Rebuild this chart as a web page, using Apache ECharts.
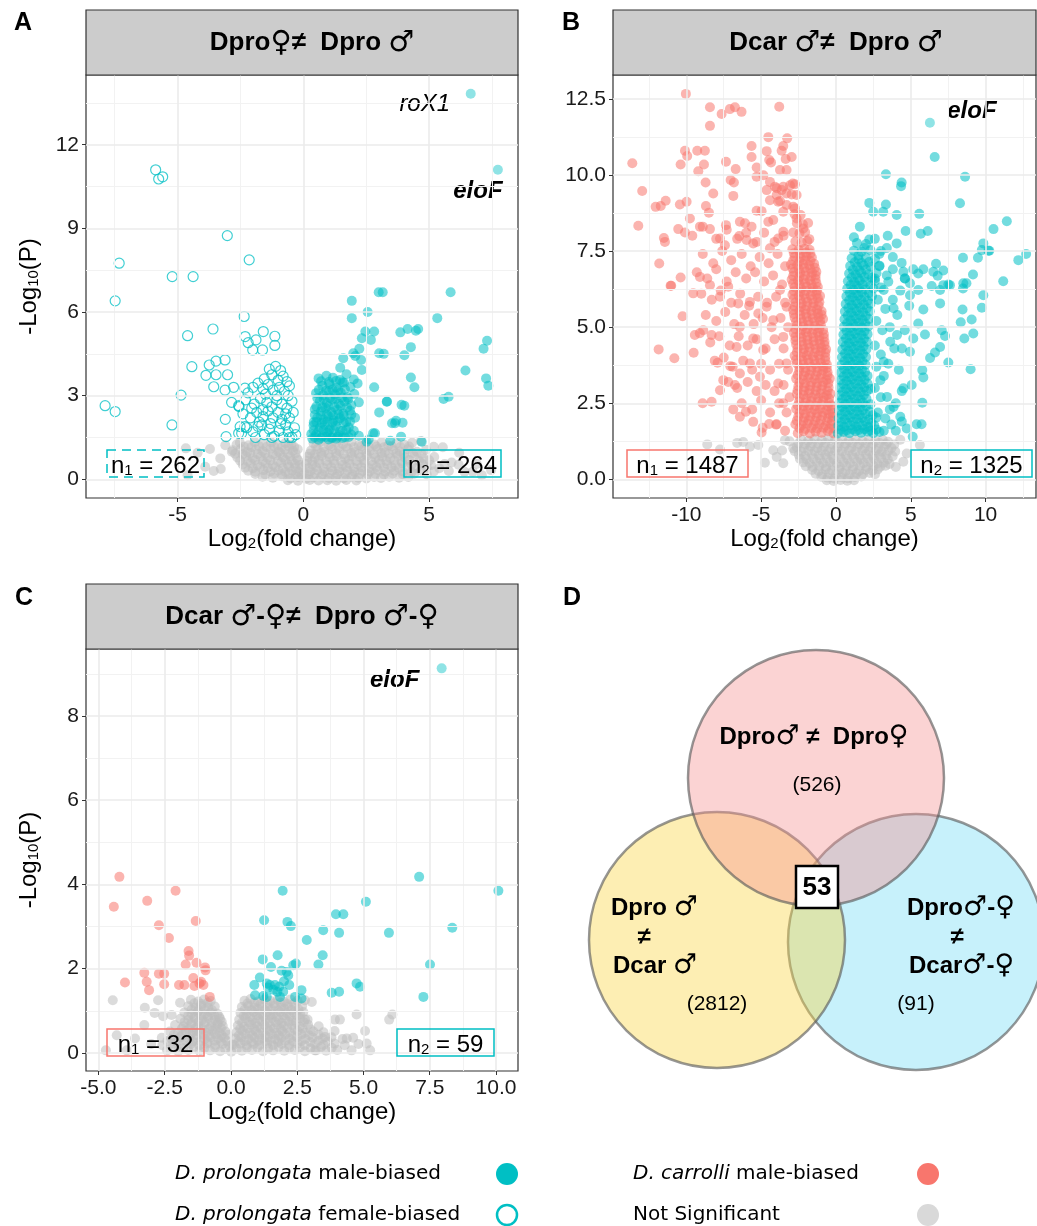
<!DOCTYPE html>
<html>
<head>
<meta charset="utf-8">
<script src="https://cdn.jsdelivr.net/npm/echarts@6.0.0/dist/echarts.min.js"></script>
<style>
  html, body { margin: 0; padding: 0; background: #fff; }
  #main { width: 1037px; height: 1226px; }
</style>
</head>
<body>
<div id="main"></div>
<script>
// ---- panel A : Dpro female vs Dpro male ----
const aXTicks = [-5, 0, 5]
const aYTicks = [0, 3, 6, 9, 12]
const aCounts = [262, 264]
const aGenes = [['roX1', 6.66, 13.83], ['eloF', 7.74, 11.10]]
const aMale = [
  [3.00,6.71],[3.16,6.71],[5.86,6.71],[1.93,6.40],[1.93,5.78],[2.56,6.00],[5.33,5.78],
  [2.47,5.30],[2.82,5.30],[2.69,5.00],[2.33,5.06],[2.23,4.68],[2.07,4.42],[3.02,4.52],[3.20,4.50],[2.30,4.28],[2.33,3.92],
  [3.86,5.27],[4.15,5.39],[4.48,5.33],[4.57,5.39],[4.28,4.74],[4.02,4.45],[7.31,4.97],[7.17,4.68],[6.45,3.90],
  [4.28,3.65],[4.42,3.30],[7.27,3.62],[7.36,3.36],[5.58,2.88],[5.78,2.96],
  [2.82,3.30],[3.33,2.79],[3.02,2.40],[4.02,2.64],[3.53,2.01],[3.69,2.10],[3.95,2.03],[2.78,1.65],[2.60,1.43],
  [3.89,1.53],[3.46,1.38],[1.59,4.34],[1.99,4.52],[1.47,4.00],[3.91,2.67],[3.65,2.01],[3.32,2.78],[4.71,1.35],[2.52,1.35],[2.85,1.65],
  [0.61,3.62],[0.92,3.71],[1.18,3.64],[1.46,3.56],[1.72,3.77],[2.01,3.58],[0.76,3.36],[1.04,3.41],[1.31,3.29],[1.62,3.46],[1.88,3.31],[2.16,3.44],
  [0.51,3.09],[0.79,3.02],[1.02,3.16],[1.26,3.04],[1.49,3.11],[1.76,2.94],[2.03,3.06],[0.66,2.81],[0.94,2.74],[1.16,2.86],[1.41,2.71],[1.64,2.79],[1.91,2.66],[2.21,2.76],
  [0.46,2.51],[0.71,2.44],[0.89,2.56],[1.11,2.41],[1.36,2.49],[1.59,2.36],[1.86,2.46],[0.56,2.21],[0.81,2.14],[1.01,2.26],[1.21,2.11],[1.46,2.19],[1.71,2.06],[2.06,2.21],
  [0.41,1.94],[0.66,1.86],[0.86,1.96],[1.06,1.79],[1.29,1.91],[1.56,1.74],[1.81,1.86],[0.51,1.61],[0.76,1.54],[0.96,1.66],[1.16,1.49],[1.41,1.59],[1.66,1.51],[1.91,1.61],
  [2.21,1.56],[0.36,1.46],[0.61,1.42],[1.01,1.43],[1.31,1.46],[0.32,1.62],[0.42,2.05],
  [0.71,3.52],[1.02,3.49],[1.31,3.53],[1.56,3.48],
  [0.62,3.21],[0.91,3.18],[1.16,3.22],[1.39,3.19],[1.66,3.23],
  [0.56,2.91],[0.81,2.88],[1.06,2.92],[1.29,2.89],[1.54,2.93],[1.79,2.88],
  [0.52,2.61],[0.76,2.58],[1.01,2.62],[1.24,2.59],[1.49,2.63],[1.74,2.58],
  [0.46,2.31],[0.69,2.28],[0.94,2.32],[1.19,2.29],[1.41,2.33],[1.61,2.28],[1.91,2.32],
  [0.52,2.06],[0.74,2.03],[0.96,2.07],[1.16,2.04],[1.36,2.08],[1.61,2.03],[1.86,2.07],
  [0.41,1.76],[0.61,1.73],[0.81,1.77],[1.01,1.74],[1.21,1.78],[1.46,1.73],[1.71,1.77],[2.01,1.74],
  [0.46,1.51],[0.71,1.48],[0.91,1.52],[1.11,1.49],[1.36,1.53],[1.56,1.48],[1.81,1.52]
]
const aFemale = [
  [-5.87,11.10],[-5.75,10.77],[-5.59,10.85],[-3.02,8.74],[-2.15,7.87],[-7.32,7.75],[-5.21,7.27],[-4.38,7.27],
  [-7.48,6.40],[-2.35,5.84],[-4.60,5.15],[-3.59,5.39],[-2.31,5.12],[-1.59,5.30],[-1.13,5.13],[-1.13,4.80],
  [-2.19,4.90],[-1.88,5.00],[-1.62,4.64],[-2.01,4.64],[-4.43,4.04],[-3.74,4.10],[-3.47,4.24],[-3.11,4.28],
  [-3.87,3.73],[-3.47,3.75],[-3.01,3.75],[-3.56,3.32],[-3.11,3.20],[-2.77,3.30],[-4.86,3.02],[-2.85,2.76],
  [-2.57,2.64],[-7.88,2.64],[-7.48,2.43],[-5.22,1.95],[-3.10,2.15],[-2.51,1.89],[-2.57,1.65],[-3.07,1.53],
  [-2.32,3.27],[-2.55,2.61],[-2.32,1.89],[-2.45,1.65],
  [-1.35,3.95],[-1.10,4.05],[-0.90,3.90],[-1.25,3.75],[-0.80,3.70],[-1.55,3.60],[-1.00,3.55],[-0.65,3.50],
  [-2.00,3.30],[-1.80,3.45],[-1.60,3.25],[-1.40,3.40],[-1.20,3.20],[-0.95,3.30],[-0.75,3.15],[-0.55,3.35],[-2.20,3.10],[-1.50,3.05],[-1.05,3.00],[-0.60,3.00],
  [-2.30,2.85],[-1.95,2.70],[-1.70,2.90],[-1.45,2.75],[-1.25,2.60],[-1.05,2.85],[-0.85,2.70],[-0.65,2.55],[-0.45,2.80],[-1.60,2.50],[-2.05,2.55],
  [-2.40,2.35],[-2.10,2.20],[-1.85,2.40],[-1.60,2.25],[-1.40,2.45],[-1.20,2.20],[-1.00,2.40],[-0.85,2.15],[-0.70,2.35],[-0.55,2.20],[-0.40,2.40],[-1.75,2.05],[-1.30,2.00],[-0.90,2.00],
  [-2.25,1.85],[-2.00,1.70],[-1.80,1.90],[-1.55,1.60],[-1.35,1.80],[-1.15,1.55],[-0.95,1.75],[-0.80,1.50],[-0.60,1.70],[-0.45,1.50],[-0.35,1.85],[-1.90,1.50],[-1.65,1.95],[-1.25,1.50],[-0.70,1.95],[-0.55,1.50],[-0.30,1.60]
]
const aGrey = [
  [-2.52,1.31],[-2.18,1.22],[-1.93,1.34],[-1.61,1.27],[-1.28,1.33],[-1.02,1.21],[-0.71,1.30],[-0.47,1.24],
  [0.41,1.29],[0.68,1.35],[1.02,1.23],[1.31,1.32],[1.58,1.26],[1.92,1.34],[2.21,1.22],[2.48,1.30],[2.83,1.25],[3.12,1.33],[3.38,1.21],[3.71,1.29],[4.02,1.24],[4.33,1.31],
  [-2.81,1.04],[-2.49,1.09],[-2.23,0.98],[-1.88,1.07],[-1.62,1.01],[-1.29,1.10],[-0.98,0.99],[-0.72,1.06],[-0.41,1.02],[-0.22,1.08],
  [0.31,1.03],[0.57,1.09],[0.83,0.99],[1.16,1.07],[1.44,1.01],[1.77,1.10],[2.03,0.98],[2.37,1.06],[2.64,1.02],[2.97,1.09],[3.24,0.97],[3.57,1.05],[3.84,1.00],[4.17,1.08],[4.52,0.99],[4.88,1.06],
  [-2.62,0.78],[-2.28,0.84],[-2.01,0.76],[-1.69,0.82],[-1.42,0.77],[-1.08,0.85],[-0.81,0.79],[-0.52,0.83],[-0.26,0.76],
  [0.18,0.81],[0.46,0.77],[0.74,0.84],[1.06,0.78],[1.33,0.83],[1.67,0.75],[1.94,0.82],[2.27,0.79],[2.53,0.85],[2.87,0.77],[3.14,0.81],[3.46,0.76],[3.77,0.84],[4.04,0.78],[4.41,0.82],[4.79,0.75],[5.21,0.80],
  [-2.41,0.53],[-2.09,0.58],[-1.82,0.51],[-1.49,0.57],[-1.21,0.52],[-0.88,0.59],[-0.62,0.54],[-0.34,0.56],[-0.13,0.51],
  [0.11,0.55],[0.36,0.52],[0.64,0.58],[0.96,0.53],[1.24,0.57],[1.56,0.51],[1.84,0.56],[2.16,0.53],[2.44,0.59],[2.76,0.52],[3.06,0.57],[3.34,0.54],[3.66,0.51],[3.94,0.58],[4.31,0.53],[4.72,0.56],[5.08,0.51],[5.62,0.55],[6.18,0.52],
  [-2.19,0.31],[-1.91,0.27],[-1.58,0.33],[-1.31,0.28],[-0.99,0.32],[-0.71,0.26],[-0.44,0.31],[-0.19,0.27],[0.04,0.22],[0.29,0.29],[0.56,0.33],[0.84,0.27],[1.16,0.31],[1.44,0.28],[1.76,0.32],[2.04,0.26],[2.36,0.30],[2.64,0.28],[2.96,0.33],[3.26,0.27],[3.61,0.31],[3.94,0.29],[4.31,0.26],[4.68,0.32],[5.19,0.28],[5.79,0.30],[6.41,0.27],
  [-1.62,0.09],[-1.21,0.06],[-0.84,0.11],[-0.51,0.04],[-0.21,0.08],[0.11,0.02],[0.39,0.07],[0.71,0.10],[1.02,0.05],[1.29,0.08],[1.61,0.04],[1.92,0.09],[2.19,0.06],[2.51,0.03],[2.82,0.08],[3.09,0.05],[3.42,0.09],[3.81,0.06],[4.18,0.08],
  [-2.36,1.17],[-2.06,1.15],[-1.76,1.19],[-1.46,1.16],[-1.16,1.18],[-0.86,1.15],[-0.58,1.19],[-0.36,1.16],
  [0.51,1.18],[0.81,1.15],[1.11,1.19],[1.41,1.16],[1.71,1.18],[2.01,1.15],[2.31,1.19],[2.61,1.16],[2.91,1.18],[3.21,1.15],[3.51,1.19],[3.86,1.16],[4.21,1.18],
  [-2.71,0.92],[-2.41,0.90],[-2.11,0.94],[-1.81,0.91],[-1.51,0.93],[-1.21,0.90],[-0.91,0.94],[-0.61,0.91],[-0.31,0.93],
  [0.26,0.92],[0.46,0.90],[0.71,0.94],[1.01,0.91],[1.31,0.93],[1.61,0.90],[1.91,0.94],[2.21,0.91],[2.51,0.93],[2.81,0.90],[3.11,0.94],[3.41,0.91],[3.71,0.93],[4.01,0.90],[4.36,0.94],[4.71,0.91],
  [-2.51,0.67],[-2.21,0.65],[-1.91,0.69],[-1.61,0.66],[-1.31,0.68],[-1.01,0.65],[-0.71,0.69],[-0.46,0.66],[-0.21,0.68],
  [0.16,0.67],[0.36,0.65],[0.61,0.69],[0.91,0.66],[1.21,0.68],[1.51,0.65],[1.81,0.69],[2.11,0.66],[2.41,0.68],[2.71,0.65],[3.01,0.69],[3.31,0.66],[3.61,0.68],[3.91,0.65],[4.21,0.69],[4.61,0.66],[5.01,0.68],
  [-2.31,0.42],[-2.01,0.40],[-1.71,0.44],[-1.41,0.41],[-1.11,0.43],[-0.81,0.40],[-0.56,0.44],[-0.31,0.41],[-0.06,0.43],[0.21,0.40],[0.51,0.44],[0.81,0.41],[1.11,0.43],[1.41,0.40],[1.71,0.44],[2.01,0.41],[2.31,0.43],[2.61,0.40],[2.91,0.44],[3.21,0.41],[3.51,0.43],[3.81,0.40],[4.16,0.44],[4.51,0.41],[4.91,0.43],[5.41,0.40],
  [-1.91,0.19],[-1.51,0.17],[-1.16,0.21],[-0.86,0.18],[-0.56,0.20],[-0.31,0.17],[-0.06,0.15],[0.21,0.18],[0.46,0.20],[0.76,0.17],[1.06,0.21],[1.36,0.18],[1.66,0.20],[1.96,0.17],[2.26,0.21],[2.56,0.18],[2.86,0.20],[3.21,0.17],[3.56,0.21],[3.96,0.18],[4.41,0.20],[4.91,0.17],
  [-0.61,-0.03],[-0.21,-0.05],[0.26,-0.02],[0.61,-0.04],[0.96,-0.03],[1.31,-0.05],[1.71,-0.02],[2.11,-0.04],
  [-4.67,1.11],[-3.71,1.09],[-2.84,0.99],[-3.56,0.30],[-3.28,0.37],[4.68,1.37],[5.19,1.17],[6.74,0.27],[7.47,0.33],[-3.10,1.22],
  [-2.65,1.25],[-4.20,0.95],[-3.90,0.45],[5.55,1.15],[6.20,0.95],[5.90,0.60],[6.90,0.55],[-4.60,0.15],[-3.30,0.75],[7.10,0.15]
]

// ---- panel B : Dcar male vs Dpro male ----
const bXTicks = [-10, -5, 0, 5, 10]
const bYTicks = [0, 2.5, 5, 7.5, 10, 12.5]
const bCounts = [1487, 1325]
const bGenes = [['eloF', 6.28, 11.71]]
const bRed = [
  [-10.03,12.66],[-8.42,12.22],[-7.64,12.0],[-7.09,12.16],[-6.75,12.22],[-6.31,12.07],[-3.79,12.24],[-8.42,11.61],
  [-13.61,10.38],[-12.95,9.47],[-13.21,8.33],[-12.05,8.95],[-11.71,8.98],[-11.38,9.15],[-10.09,10.79],[-9.94,10.62],
  [-10.38,10.34],[-9.27,10.79],[-8.76,10.79],[-8.82,10.34],[-9.20,10.12],[-8.71,9.75],[-8.20,9.39],[-7.35,10.43],
  [-6.70,10.19],[-7.04,9.83],[-6.82,9.75],[-6.86,9.31],[-4.52,11.24],[-3.26,11.20],[-3.52,10.95],[-3.63,10.79],
  [-4.63,10.78],[-4.46,10.49],[-4.34,10.41],[-5.64,10.95],[-5.64,10.59],[-2.96,10.59],[-3.36,10.52],[-5.30,10.24],
  [-4.85,9.99],[-5.30,9.94],[-3.74,10.16],[-3.30,10.16],[-4.41,9.77],[-2.89,9.72],[-3.52,9.61],[-3.96,9.56],
  [-2.96,9.36],[-10.43,9.03],[-9.98,9.12],[-10.54,8.22],[-10.09,8.11],[-11.50,7.93],[-11.43,7.80],[-11.81,7.09],
  [-11.05,6.36],[-10.38,6.63],[-8.69,8.98],[-8.49,8.76],[-9.76,8.57],[-9.09,8.30],[-8.42,8.22],[-6.42,8.46],
  [-6.08,8.41],[-5.64,8.30],[-6.46,7.99],[-5.97,7.86],[-5.53,7.75],[-7.35,8.35],[-7.75,7.91],[-7.42,7.69],
  [-5.30,8.82],[-4.97,8.81],[-4.52,8.46],[-4.19,8.52],[-3.52,8.13],[-3.86,7.91],[-4.41,7.59],[-2.63,8.57],
  [-2.18,8.24],[-1.78,7.89],[-2.74,8.90],[-3.86,9.12],[-3.30,9.01],[-2.85,8.95],[-4.41,9.17],[-4.08,9.61],
  [-3.63,9.50],[-3.07,9.66],[-2.74,9.69],[-3.30,9.39],[-3.96,9.34],[-3.74,9.14],[-4.63,9.50],[-2.63,9.34],[-3.52,8.79],
  [-11.01,6.36],[-11.85,4.27],[-10.80,3.98],[-9.51,4.16],[-10.25,5.36],[-8.91,2.50],[-8.31,2.55],[-7.75,2.93],
  [-6.86,2.30],[-6.42,2.06],[-6.02,2.22],[-5.53,1.89],[-4.97,1.54],[-4.46,1.82],[-3.96,1.81],[-7.53,3.26],
  [-6.75,3.10],[-6.42,3.48],[-7.91,3.83],[-7.06,3.72],[-9.43,4.74],[-8.87,4.90],[-8.31,4.74],[-9.54,6.11],
  [-9.09,6.65],[-8.42,6.38],[-7.75,6.00],[-7.20,6.33],[-6.53,5.78],[-5.75,5.83],[-5.19,5.45],[-4.63,5.67],
  [-6.42,5.01],[-5.53,4.63],[-4.86,4.25],[-4.19,5.23],[-5.75,3.81],[-5.08,3.37],[-6.64,4.35],[-3.74,6.22],
  [-3.30,5.67],[-3.52,4.68],[-3.30,3.81],[-3.86,3.15],[-3.52,2.50],
  [-8.90,7.40],[-8.20,7.10],[-7.60,7.50],[-7.00,7.20],[-6.30,7.40],[-5.70,7.00],[-5.10,7.30],[-4.50,7.10],[-3.90,7.40],[-3.40,7.00],
  [-9.30,6.80],[-8.60,6.60],[-8.00,6.90],[-7.30,6.50],[-6.70,6.80],[-6.00,6.60],[-5.40,6.80],[-4.80,6.50],[-4.20,6.70],[-3.60,6.40],
  [-9.00,6.10],[-8.30,5.90],[-7.70,6.20],[-7.00,5.80],[-6.40,6.10],[-5.80,5.70],[-5.20,6.00],[-4.60,5.80],[-4.00,6.00],[-3.40,5.80],
  [-8.70,5.40],[-8.00,5.20],[-7.40,5.50],[-6.80,5.10],[-6.10,5.40],[-5.50,5.10],[-4.90,5.30],[-4.30,5.00],[-3.70,5.30],[-3.20,5.00],
  [-9.10,4.80],[-8.40,4.50],[-7.80,4.70],[-7.10,4.40],[-6.50,4.70],[-5.90,4.40],[-5.30,4.60],[-4.70,4.30],[-4.10,4.60],[-3.50,4.30],
  [-8.10,3.90],[-7.50,4.00],[-6.90,3.70],[-6.20,3.90],[-5.60,3.60],[-5.00,3.80],[-4.40,3.60],[-3.80,3.80],[-3.20,3.60],
  [-7.20,3.20],[-6.60,3.00],[-5.90,3.20],[-5.30,2.90],[-4.70,3.10],[-4.10,2.90],[-3.50,3.10],[-3.10,2.70],
  [-6.30,2.50],[-5.60,2.30],[-5.00,2.60],[-4.40,2.20],[-3.80,2.50],[-3.30,2.20],[-4.00,1.80],[-3.40,1.60],[-4.90,1.70],
  [-9.60,8.00],[-8.90,8.30],[-8.00,7.90],[-7.30,8.20],[-6.60,7.90],[-6.00,8.10],[-5.30,7.80],[-4.80,8.10],[-4.10,7.80],[-3.50,8.00],
  [-2.55,1.52],[-2.16,1.58],[-1.74,1.51],[-1.36,1.57],[-0.96,1.53],[-0.54,1.58],[-0.16,1.51],
  [-2.71,1.81],[-2.29,1.78],[-1.91,1.83],[-1.49,1.79],[-1.11,1.82],[-0.69,1.77],[-0.31,1.81],
  [-2.52,2.06],[-2.09,2.03],[-1.71,2.07],[-1.29,2.04],[-0.91,2.08],[-0.52,2.02],[-0.21,2.06],
  [-2.66,2.31],[-2.24,2.28],[-1.86,2.33],[-1.44,2.29],[-1.06,2.32],[-0.64,2.27],[-0.29,2.31],
  [-2.46,2.56],[-2.04,2.53],[-1.66,2.57],[-1.24,2.54],[-0.86,2.58],[-0.46,2.52],
  [-2.61,2.81],[-2.19,2.78],[-1.81,2.83],[-1.39,2.79],[-1.01,2.82],[-0.61,2.77],[-0.36,2.81],
  [-2.51,3.06],[-2.09,3.03],[-1.71,3.07],[-1.29,3.04],[-0.91,3.08],[-0.49,3.02],
  [-2.66,3.31],[-2.24,3.28],[-1.86,3.33],[-1.44,3.29],[-1.06,3.32],[-0.64,3.27],[-0.41,3.31],
  [-2.46,3.56],[-2.04,3.53],[-1.66,3.57],[-1.24,3.54],[-0.86,3.58],[-0.56,3.52],
  [-2.61,3.81],[-2.19,3.78],[-1.81,3.83],[-1.39,3.79],[-1.01,3.82],[-0.61,3.77],
  [-2.76,4.06],[-2.34,4.03],[-1.96,4.07],[-1.54,4.04],[-1.16,4.08],[-0.71,4.02],
  [-2.56,4.31],[-2.14,4.28],[-1.76,4.33],[-1.34,4.29],[-0.96,4.32],[-0.66,4.27],
  [-2.71,4.56],[-2.29,4.53],[-1.91,4.57],[-1.49,4.54],[-1.11,4.58],[-0.76,4.52],
  [-2.81,4.81],[-2.39,4.78],[-2.01,4.83],[-1.59,4.79],[-1.21,4.82],[-0.81,4.77],
  [-2.61,5.06],[-2.19,5.03],[-1.81,5.07],[-1.39,5.04],[-1.01,5.08],
  [-2.76,5.31],[-2.34,5.28],[-1.96,5.33],[-1.54,5.29],[-1.16,5.32],[-0.86,5.27],
  [-2.86,5.56],[-2.44,5.53],[-2.06,5.57],[-1.64,5.54],[-1.26,5.58],[-0.96,5.52],
  [-2.71,5.81],[-2.29,5.78],[-1.91,5.83],[-1.49,5.79],[-1.11,5.82],
  [-2.91,6.06],[-2.49,6.03],[-2.11,6.07],[-1.69,6.04],[-1.31,6.08],[-1.06,6.02],
  [-2.76,6.31],[-2.34,6.28],[-1.96,6.33],[-1.54,6.29],[-1.21,6.32],
  [-2.96,6.56],[-2.54,6.53],[-2.16,6.57],[-1.74,6.54],[-1.36,6.58],
  [-2.81,6.81],[-2.39,6.78],[-2.01,6.83],[-1.59,6.79],[-1.31,6.82],
  [-3.01,7.06],[-2.59,7.03],[-2.21,7.07],[-1.79,7.04],[-1.46,7.08],
  [-2.76,7.31],[-2.34,7.28],[-1.96,7.33],[-1.61,7.29],
  [-2.91,7.56],[-2.49,7.53],[-2.11,7.57],[-1.76,7.54],
  [-2.71,7.81],[-2.29,7.78],[-1.91,7.83],
  [-2.86,8.11],[-2.44,8.08],[-2.06,8.12],
  [-2.61,8.41],[-2.21,8.38],[-1.86,8.42],
  [-2.76,8.71],[-2.36,8.68],
  [-2.44,1.68],[-2.06,1.66],[-1.64,1.69],[-1.26,1.67],[-0.84,1.70],[-0.46,1.66],[-0.12,1.68],
  [-2.61,1.93],[-2.19,1.91],[-1.81,1.94],[-1.39,1.92],[-1.01,1.95],[-0.59,1.91],[-0.26,1.93],
  [-2.44,2.18],[-2.06,2.16],[-1.64,2.19],[-1.26,2.17],[-0.84,2.20],[-0.46,2.16],[-0.22,2.18],
  [-2.56,2.43],[-2.14,2.41],[-1.76,2.44],[-1.34,2.42],[-0.96,2.45],[-0.54,2.41],[-0.31,2.43],
  [-2.41,2.68],[-1.99,2.66],[-1.61,2.69],[-1.19,2.67],[-0.81,2.70],[-0.46,2.66],
  [-2.56,2.93],[-2.14,2.91],[-1.76,2.94],[-1.34,2.92],[-0.96,2.95],[-0.56,2.91],
  [-2.44,3.18],[-2.06,3.16],[-1.64,3.19],[-1.26,3.17],[-0.84,3.20],[-0.51,3.16],
  [-2.56,3.43],[-2.14,3.41],[-1.76,3.44],[-1.34,3.42],[-0.96,3.45],[-0.56,3.41],
  [-2.44,3.68],[-2.06,3.66],[-1.64,3.69],[-1.26,3.67],[-0.84,3.70],[-0.61,3.66],
  [-2.66,3.93],[-2.24,3.91],[-1.86,3.94],[-1.44,3.92],[-1.06,3.95],[-0.71,3.91],
  [-2.61,4.18],[-2.19,4.16],[-1.81,4.19],[-1.39,4.17],[-1.01,4.20],[-0.71,4.16],
  [-2.66,4.43],[-2.24,4.41],[-1.86,4.44],[-1.44,4.42],[-1.06,4.45],[-0.76,4.41],
  [-2.71,4.68],[-2.29,4.66],[-1.91,4.69],[-1.49,4.67],[-1.11,4.70],[-0.81,4.66],
  [-2.71,4.93],[-2.29,4.91],[-1.91,4.94],[-1.49,4.92],[-1.11,4.95],[-0.86,4.91],
  [-2.66,5.18],[-2.24,5.16],[-1.86,5.19],[-1.44,5.17],[-1.06,5.20],
  [-2.81,5.43],[-2.39,5.41],[-2.01,5.44],[-1.59,5.42],[-1.21,5.45],[-0.96,5.41],
  [-2.76,5.68],[-2.34,5.66],[-1.96,5.69],[-1.54,5.67],[-1.16,5.70],
  [-2.81,5.93],[-2.39,5.91],[-2.01,5.94],[-1.59,5.92],[-1.21,5.95],
  [-2.81,6.18],[-2.39,6.16],[-2.01,6.19],[-1.59,6.17],[-1.26,6.20],
  [-2.86,6.43],[-2.44,6.41],[-2.06,6.44],[-1.64,6.42],[-1.31,6.45],
  [-2.86,6.68],[-2.44,6.66],[-2.06,6.69],[-1.64,6.67],[-1.36,6.70],
  [-2.91,6.93],[-2.49,6.91],[-2.11,6.94],[-1.71,6.92],[-1.41,6.95],
  [-2.86,7.18],[-2.44,7.16],[-2.06,7.19],[-1.71,7.17],
  [-2.81,7.43],[-2.41,7.41],[-2.01,7.44],[-1.71,7.42]
]
const bTeal = [
  [6.60,10.59],[3.34,10.02],[4.39,9.75],[4.35,9.63],[8.63,9.94],[2.23,9.08],[2.49,8.79],[3.16,8.79],[3.34,9.03],
  [4.06,8.68],[5.57,8.72],[8.29,9.07],[2.23,7.88],[3.46,8.00],[4.06,7.75],[4.66,8.16],[5.67,8.07],[6.13,8.16],
  [11.42,8.48],[10.53,8.22],[9.85,7.75],[10.25,7.51],[8.49,7.28],[9.49,7.28],[12.19,7.20],[12.71,7.40],[11.18,6.51],
  [9.16,6.73],[8.72,6.44],[8.49,6.27],[4.39,7.11],[5.17,6.90],[5.84,6.90],[6.69,7.08],[7.18,6.86],[6.80,6.69],
  [4.61,6.60],[4.95,6.44],[5.50,6.22],[6.40,6.35],[7.18,6.38],[7.51,6.40],[9.75,7.53],[10.19,7.51],
  [9.85,6.05],[9.75,5.64],[8.46,5.58],[9.07,5.25],[8.34,5.16],[9.18,4.79],[8.58,4.63],[7.51,3.84],[9.00,3.62],
  [7.07,4.90],[7.29,4.71],[6.96,4.35],[6.29,3.99],[6.62,4.17],[5.84,5.58],[5.50,5.12],[5.95,4.76],[5.17,4.63],
  [4.95,4.19],[5.77,3.59],[5.84,3.35],[5.77,2.52],[5.06,3.10],[4.51,2.99],[5.39,1.81],[5.72,1.81],[5.13,1.40],
  [4.73,1.67],[4.30,2.06],[3.85,2.38],[3.41,2.71],[2.97,3.26],[3.19,3.86],[3.63,4.52],[4.41,4.30],[4.08,4.74],
  [3.50,6.49],[4.51,6.82],[5.50,6.76],[6.51,6.82],[4.95,6.05],[3.19,6.22],[3.85,5.62],[6.96,5.78],[7.62,6.38],
  [8.51,6.44],[6.96,6.22],[1.20,7.95],[1.60,8.30],[1.90,7.60],[2.60,7.90],[3.00,7.50],[1.50,7.35],[3.80,7.30],[2.90,7.00],
  [2.60,6.60],[3.00,6.30],[3.40,6.70],[2.80,5.90],[3.30,5.60],[2.70,5.20],[3.10,4.90],[2.60,4.40],[3.00,4.10],
  [2.70,3.70],[3.20,3.40],[2.60,3.00],[3.00,2.70],[2.80,2.20],[3.30,2.00],[3.70,1.80],[3.20,1.60],[4.00,1.60],
  [4.40,1.90],[3.60,2.30],[4.00,2.50],[3.50,3.80],[3.90,4.30],[3.60,5.00],[4.10,5.40],[3.80,5.90],[4.30,6.20],
  [4.60,6.60],[3.80,6.90],[4.20,3.60],[2.90,7.40],[3.40,7.60],[4.60,4.90],[4.90,5.70],[4.40,2.90],
  [0.12,1.51],[0.51,1.56],[0.89,1.52],[1.31,1.58],[1.69,1.53],[2.11,1.57],[2.49,1.52],[2.91,1.56],
  [0.16,1.76],[0.54,1.73],[0.96,1.78],[1.34,1.74],[1.76,1.77],[2.14,1.72],[2.56,1.78],
  [0.18,2.01],[0.59,1.98],[0.97,2.03],[1.39,1.99],[1.77,2.02],[2.21,1.97],[2.69,2.03],
  [0.21,2.26],[0.61,2.23],[0.99,2.28],[1.41,2.24],[1.79,2.27],[2.26,2.22],
  [0.23,2.51],[0.63,2.48],[1.01,2.53],[1.43,2.49],[1.81,2.52],[2.31,2.47],
  [0.25,2.76],[0.66,2.73],[1.04,2.78],[1.46,2.74],[1.86,2.77],
  [0.27,3.01],[0.68,2.98],[1.06,3.03],[1.48,2.99],[1.89,3.02],[2.31,2.97],
  [0.30,3.26],[0.71,3.23],[1.09,3.28],[1.51,3.24],[1.91,3.27],
  [0.33,3.51],[0.74,3.48],[1.12,3.53],[1.54,3.49],[1.94,3.52],
  [0.36,3.76],[0.77,3.73],[1.15,3.78],[1.57,3.74],[1.97,3.77],
  [0.40,4.01],[0.81,3.98],[1.19,4.03],[1.61,3.99],[2.01,4.02],
  [0.42,4.26],[0.83,4.23],[1.21,4.28],[1.63,4.24],[2.03,4.27],
  [0.46,4.51],[0.87,4.48],[1.25,4.53],[1.67,4.49],[2.06,4.52],
  [0.50,4.76],[0.91,4.73],[1.29,4.78],[1.71,4.74],[2.11,4.77],
  [0.53,5.01],[0.94,4.98],[1.32,5.03],[1.74,4.99],[2.16,5.02],
  [0.57,5.26],[0.98,5.23],[1.36,5.28],[1.78,5.24],[2.21,5.27],
  [0.60,5.51],[1.01,5.48],[1.39,5.53],[1.81,5.49],[2.26,5.52],
  [0.65,5.76],[1.06,5.73],[1.44,5.78],[1.86,5.74],[2.31,5.77],
  [0.70,6.01],[1.11,5.98],[1.49,6.03],[1.91,5.99],[2.41,6.02],
  [0.75,6.26],[1.16,6.23],[1.54,6.28],[1.96,6.24],[2.51,6.27],
  [0.80,6.51],[1.21,6.48],[1.59,6.53],[2.01,6.49],[2.61,6.52],
  [0.88,6.76],[1.31,6.73],[1.69,6.78],[2.16,6.74],[2.71,6.77],
  [0.95,7.01],[1.41,6.98],[1.84,7.03],[2.31,6.99],[2.91,7.02],
  [1.05,7.26],[1.51,7.23],[2.01,7.28],[2.61,7.24],
  [1.20,7.51],[1.71,7.48],[2.31,7.53],
  [1.40,7.76],[2.01,7.73],
  [0.31,1.63],[0.71,1.61],[1.11,1.64],[1.51,1.62],[1.91,1.65],[2.31,1.61],[2.71,1.64],
  [0.36,1.88],[0.76,1.86],[1.16,1.89],[1.56,1.87],[1.96,1.90],[2.36,1.86],
  [0.39,2.13],[0.79,2.11],[1.19,2.14],[1.59,2.12],[1.99,2.15],[2.46,2.11],
  [0.41,2.38],[0.81,2.36],[1.21,2.39],[1.61,2.37],[2.01,2.40],
  [0.44,2.63],[0.84,2.61],[1.24,2.64],[1.64,2.62],[2.04,2.65],
  [0.46,2.88],[0.86,2.86],[1.26,2.89],[1.66,2.87],[2.06,2.90],
  [0.49,3.13],[0.89,3.11],[1.29,3.14],[1.69,3.12],[2.11,3.15],
  [0.51,3.38],[0.91,3.36],[1.31,3.39],[1.71,3.37],[2.11,3.40],
  [0.54,3.63],[0.94,3.61],[1.34,3.64],[1.74,3.62],
  [0.57,3.88],[0.97,3.86],[1.37,3.89],[1.77,3.87],
  [0.61,4.13],[1.01,4.11],[1.41,4.14],[1.81,4.12],
  [0.64,4.38],[1.04,4.36],[1.44,4.39],[1.84,4.37],
  [0.67,4.63],[1.07,4.61],[1.47,4.64],[1.87,4.62],
  [0.71,4.88],[1.11,4.86],[1.51,4.89],[1.91,4.87],
  [0.75,5.13],[1.15,5.11],[1.55,5.14],[1.95,5.12],
  [0.79,5.38],[1.19,5.36],[1.59,5.39],[1.99,5.37],
  [0.83,5.63],[1.23,5.61],[1.63,5.64],[2.06,5.62],
  [0.89,5.88],[1.29,5.86],[1.69,5.89],[2.11,5.87],
  [0.93,6.13],[1.33,6.11],[1.73,6.14],[2.21,6.12],
  [0.99,6.38],[1.39,6.36],[1.79,6.39],[2.31,6.37],
  [1.06,6.63],[1.46,6.61],[1.91,6.64],[2.41,6.62],
  [1.13,6.88],[1.56,6.86],[2.01,6.89],
  [1.26,7.13],[1.71,7.11],[2.21,7.14]
]
const bGrey = [
  [-2.31,1.31],[-1.86,1.27],[-1.42,1.33],[-0.94,1.29],[-0.52,1.34],[-0.06,1.30],[0.41,1.33],[0.86,1.28],[1.31,1.32],[1.77,1.27],[2.21,1.31],[2.63,1.26],[3.12,1.30],[3.48,1.24],
  [-2.62,1.06],[-2.14,1.02],[-1.71,1.08],[-1.24,1.03],[-0.81,1.07],[-0.36,1.01],[0.11,1.05],[0.56,1.09],[1.02,1.03],[1.44,1.07],[1.91,1.02],[2.36,1.06],[2.81,1.01],[3.24,1.08],[3.71,1.03],
  [-2.49,0.81],[-2.06,0.77],[-1.61,0.83],[-1.14,0.79],[-0.71,0.82],[-0.24,0.78],[0.21,0.83],[0.66,0.79],[1.09,0.81],[1.56,0.77],[2.01,0.83],[2.44,0.78],[2.91,0.82],[3.36,0.79],[3.79,0.76],
  [-2.18,0.56],[-1.76,0.53],[-1.29,0.58],[-0.86,0.54],[-0.41,0.57],[0.06,0.52],[0.51,0.56],[0.94,0.53],[1.41,0.58],[1.86,0.54],[2.29,0.57],[2.76,0.52],[3.19,0.55],[3.58,0.51],
  [-1.59,0.31],[-1.16,0.28],[-0.69,0.33],[-0.26,0.29],[0.21,0.32],[0.64,0.27],[1.11,0.31],[1.54,0.28],[2.01,0.32],[2.44,0.29],[2.79,0.33],
  [-0.98,0.09],[-0.56,0.06],[-0.11,0.03],[0.34,0.07],[0.79,0.04],[1.26,0.08],[1.69,0.10],
  [-2.51,1.18],[-2.06,1.16],[-1.61,1.19],[-1.16,1.17],[-0.71,1.20],[-0.26,1.16],[0.21,1.19],[0.66,1.17],[1.11,1.20],[1.56,1.16],[2.01,1.19],[2.46,1.17],[2.91,1.20],[3.36,1.16],
  [-2.76,0.93],[-2.31,0.91],[-1.86,0.94],[-1.41,0.92],[-0.96,0.95],[-0.51,0.91],[-0.06,0.94],[0.41,0.92],[0.86,0.95],[1.31,0.91],[1.76,0.94],[2.21,0.92],[2.66,0.95],[3.06,0.91],[3.51,0.94],[3.96,0.92],
  [-2.41,0.68],[-1.96,0.66],[-1.51,0.69],[-1.06,0.67],[-0.61,0.70],[-0.16,0.66],[0.31,0.69],[0.76,0.67],[1.21,0.70],[1.66,0.66],[2.11,0.69],[2.56,0.67],[3.01,0.70],[3.46,0.66],
  [-2.01,0.43],[-1.56,0.41],[-1.11,0.44],[-0.66,0.42],[-0.21,0.45],[0.26,0.41],[0.71,0.44],[1.16,0.42],[1.61,0.45],[2.06,0.41],[2.51,0.44],[2.96,0.42],[3.31,0.45],
  [-1.36,0.19],[-0.91,0.17],[-0.46,0.20],[0.01,0.18],[0.46,0.21],[0.91,0.17],[1.36,0.20],[1.81,0.18],[2.26,0.21],[2.61,0.17],
  [-0.61,-0.03],[-0.16,-0.05],[0.31,-0.02],[0.76,-0.04],[1.21,-0.03],
  [-7.75,0.98],[-6.20,1.23],[-5.75,1.07],[-5.19,1.13],[-4.75,0.55],[-3.96,0.74],[-3.52,0.53],[-2.85,1.02],[-4.19,0.96],[-3.41,1.29],
  [4.50,0.58],[4.73,0.85],[5.61,1.13],[4.00,0.41],[-3.10,1.25],[-3.60,0.95],[3.90,1.15],[4.30,1.30],[-6.60,1.20],[-8.60,1.15]
]

// ---- panel C : Dcar male-female vs Dpro male-female ----
const cXTicks = [-5, -2.5, 0, 2.5, 5, 7.5, 10]
const cYTicks = [0, 2, 4, 6, 8]
const cCounts = [32, 59]
const cGenes = [['eloF', 7.95, 9.13]]
const cRed = [
  [-4.21,4.18],[-4.42,3.47],[-3.16,3.61],[-2.09,3.85],[-2.72,3.03],[-1.33,3.13],[-2.34,2.73],[-1.60,2.42],
  [-1.58,2.31],[-1.71,2.10],[-1.30,2.14],[-0.98,2.03],[-0.96,1.96],[-3.27,1.90],[-2.72,1.88],[-2.52,1.88],
  [-3.18,1.69],[-4.00,1.67],[-2.52,1.63],[-1.42,1.78],[-1.19,1.65],[-1.04,1.61],[-1.13,1.69],[-1.96,1.61],
  [-1.76,1.61],[-1.38,1.59],[-3.09,1.49],[-0.80,1.33]
]
const cTeal = [
  [7.10,4.18],[1.95,3.85],[10.09,3.85],[5.09,3.59],[1.25,3.15],[2.13,3.11],[2.26,3.01],[3.96,3.29],[4.24,3.29],
  [3.48,2.91],[4.08,2.85],[8.35,2.97],[5.96,2.85],[2.86,2.68],[1.20,2.22],[1.76,2.32],[3.46,2.32],[3.30,2.10],
  [7.51,2.10],[1.51,2.04],[1.91,1.95],[2.16,1.84],[2.35,2.08],[2.45,2.12],[2.10,1.92],[1.09,1.79],[0.88,1.61],
  [1.35,1.65],[1.47,1.61],[1.66,1.61],[1.82,1.57],[1.97,1.45],[2.20,1.61],[2.66,1.49],[2.42,1.33],[0.91,1.37],
  [1.22,1.35],[2.66,1.29],[4.74,1.65],[4.87,1.57],[3.80,1.43],[4.08,1.45],[7.26,1.33],[1.85,1.33],[1.35,1.33],
  [1.60,1.50],[1.75,1.45],[1.40,1.55],[2.00,1.70]
]
const cGrey = [
  [-1.51,1.26],[-1.24,1.22],[-1.01,1.27],[-0.76,1.23],[0.51,1.24],[0.74,1.28],[1.01,1.22],[1.26,1.27],[1.49,1.23],[1.76,1.26],[2.01,1.21],[2.24,1.27],[2.51,1.24],
  [-1.61,1.11],[-1.34,1.08],[-1.11,1.12],[-0.86,1.07],[-0.61,1.10],[0.41,1.09],[0.66,1.12],[0.89,1.07],[1.16,1.11],[1.39,1.08],[1.66,1.12],[1.89,1.07],[2.16,1.10],[2.41,1.08],[2.69,1.12],
  [-1.76,0.96],[-1.49,0.93],[-1.26,0.97],[-0.99,0.92],[-0.76,0.96],[-0.51,0.93],[0.36,0.95],[0.59,0.92],[0.86,0.97],[1.09,0.93],[1.36,0.96],[1.59,0.92],[1.86,0.97],[2.09,0.94],[2.36,0.96],[2.61,0.92],
  [-1.91,0.81],[-1.61,0.78],[-1.36,0.82],[-1.09,0.79],[-0.86,0.83],[-0.61,0.78],[-0.41,0.81],[0.31,0.79],[0.54,0.82],[0.81,0.78],[1.04,0.81],[1.31,0.79],[1.54,0.83],[1.81,0.78],[2.04,0.81],[2.31,0.77],[2.61,0.82],[2.89,0.79],
  [-2.11,0.66],[-1.79,0.63],[-1.51,0.67],[-1.24,0.64],[-1.01,0.66],[-0.74,0.63],[-0.51,0.67],[-0.31,0.64],[0.26,0.65],[0.49,0.62],[0.76,0.67],[0.99,0.63],[1.26,0.66],[1.49,0.63],[1.76,0.67],[1.99,0.64],[2.31,0.66],[2.59,0.62],[2.91,0.67],[3.31,0.63],
  [-2.31,0.51],[-1.99,0.48],[-1.71,0.52],[-1.44,0.49],[-1.21,0.51],[-0.94,0.48],[-0.71,0.52],[-0.44,0.49],[-0.21,0.51],[0.21,0.49],[0.44,0.52],[0.71,0.48],[0.94,0.51],[1.21,0.49],[1.44,0.52],[1.71,0.48],[1.94,0.51],[2.21,0.49],[2.51,0.52],[2.79,0.48],[3.11,0.51],[3.49,0.49],[3.91,0.52],
  [-2.61,0.36],[-2.24,0.33],[-1.91,0.37],[-1.59,0.34],[-1.31,0.36],[-0.99,0.33],[-0.76,0.37],[-0.49,0.34],[-0.26,0.36],[0.16,0.34],[0.39,0.37],[0.66,0.33],[0.89,0.36],[1.16,0.34],[1.39,0.37],[1.66,0.33],[1.89,0.36],[2.21,0.34],[2.49,0.37],[2.81,0.33],[3.09,0.36],[3.46,0.34],[3.79,0.37],[4.21,0.33],[4.61,0.36],
  [-3.01,0.21],[-2.59,0.18],[-2.21,0.22],[-1.84,0.19],[-1.51,0.21],[-1.19,0.18],[-0.91,0.22],[-0.59,0.19],[-0.31,0.21],[-0.06,0.17],[0.11,0.19],[0.36,0.22],[0.59,0.18],[0.86,0.21],[1.09,0.19],[1.36,0.22],[1.59,0.18],[1.91,0.21],[2.19,0.19],[2.51,0.22],[2.79,0.18],[3.16,0.21],[3.49,0.19],[3.91,0.22],[4.29,0.18],[4.81,0.21],
  [-2.41,0.06],[-1.99,0.04],[-1.61,0.07],[-1.19,0.05],[-0.79,0.06],[-0.41,0.04],[0.01,0.03],[0.41,0.05],[0.79,0.07],[1.21,0.04],[1.59,0.06],[2.01,0.05],[2.41,0.07],[2.79,0.04],[3.21,0.06],[3.59,0.05],[4.01,0.07],
  [-1.38,1.18],[-1.12,1.16],[-0.88,1.19],[0.62,1.17],[0.88,1.19],[1.12,1.16],[1.38,1.18],[1.62,1.17],[1.88,1.19],[2.12,1.16],[2.38,1.18],
  [-1.48,1.03],[-1.22,1.01],[-0.98,1.04],[-0.72,1.02],[0.52,1.03],[0.78,1.01],[1.02,1.04],[1.28,1.02],[1.52,1.03],[1.78,1.01],[2.02,1.04],[2.28,1.02],[2.55,1.03],
  [-1.62,0.88],[-1.38,0.86],[-1.12,0.89],[-0.88,0.87],[-0.62,0.88],[-0.45,0.86],[0.48,0.88],[0.72,0.86],[0.98,0.89],[1.22,0.87],[1.48,0.88],[1.72,0.86],[1.98,0.89],[2.22,0.87],[2.48,0.88],
  [-1.75,0.73],[-1.48,0.71],[-1.22,0.74],[-0.98,0.72],[-0.72,0.73],[-0.50,0.71],[-0.35,0.74],[0.42,0.72],[0.68,0.73],[0.92,0.71],[1.18,0.74],[1.42,0.72],[1.68,0.73],[1.92,0.71],[2.18,0.74],[2.45,0.72],[2.75,0.73],
  [-1.85,0.58],[-1.58,0.56],[-1.32,0.59],[-1.08,0.57],[-0.82,0.58],[-0.58,0.56],[-0.38,0.59],[0.35,0.57],[0.62,0.58],[0.88,0.56],[1.12,0.59],[1.38,0.57],[1.62,0.58],[1.88,0.56],[2.12,0.59],[2.40,0.57],[2.70,0.58],[3.00,0.56],
  [-2.15,0.43],[-1.85,0.41],[-1.55,0.44],[-1.30,0.42],[-1.05,0.43],[-0.82,0.41],[-0.58,0.44],[-0.35,0.42],[-0.12,0.43],[0.30,0.41],[0.55,0.44],[0.80,0.42],[1.05,0.43],[1.30,0.41],[1.55,0.44],[1.80,0.42],[2.05,0.43],[2.35,0.41],[2.65,0.44],[2.95,0.42],[3.30,0.43],
  [-2.40,0.28],[-2.05,0.26],[-1.70,0.29],[-1.45,0.27],[-1.15,0.28],[-0.88,0.26],[-0.62,0.29],[-0.38,0.27],[-0.15,0.28],[0.05,0.20],[0.28,0.27],[0.52,0.28],[0.78,0.26],[1.02,0.29],[1.28,0.27],[1.52,0.28],[1.78,0.26],[2.05,0.29],[2.35,0.27],[2.65,0.28],[3.00,0.26],[3.30,0.29],[3.65,0.27],
  [-2.20,0.13],[-1.80,0.11],[-1.40,0.14],[-1.00,0.12],[-0.60,0.13],[-0.22,0.09],[0.22,0.10],[0.60,0.12],[1.00,0.13],[1.40,0.11],[1.80,0.14],[2.20,0.12],[2.60,0.13],[3.00,0.11],[3.40,0.14],[3.80,0.12],
  [-4.46,1.25],[-3.25,1.07],[-2.88,0.95],[-2.56,0.87],[-2.75,1.25],[-1.92,1.19],[-2.24,0.90],[-3.27,0.66],[4.74,0.91],[5.97,0.79],
  [6.09,0.91],[3.92,0.79],[4.11,0.79],[5.06,0.52],[2.79,1.25],[3.05,1.21],[2.79,0.79],[2.73,0.97],[-4.72,0.06],[-4.31,0.42],
  [-3.62,0.34],[-3.93,0.06],[4.55,0.06],[5.12,0.22],[5.25,0.06],[3.55,0.38],[4.37,0.34],[3.17,0.06]
]

// ---- panel D : Venn ----
const vennNames = ['Dpro♂-♀\n≠\nDcar♂-♀', 'Dpro ♂\n≠\nDcar ♂', 'Dpro♂ ≠  Dpro♀']
const vennCounts = [91, 2812, 526]
const vennShared = 53
const vennCentres = [[3.56, 3.42], [1.57, 3.40], [2.56, 1.78]]
const vennFill = ['rgba(115,219,245,0.5)', 'rgba(251,213,65,0.5)', 'rgba(246,145,145,0.5)']

const FONT = 'Liberation Sans, Arial, sans-serif'
const SYM = 'DejaVu Sans, sans-serif'
const TEAL = '#00BFC4', RED = '#F8766D', GREY = '#BEBEBE'
const TEAL_A = 'rgba(0,191,196,0.55)'

const chart = echarts.init(document.getElementById('main'), null, { renderer: 'canvas' })

const sub = {
  n: { fontSize: 24, lineHeight: 28, verticalAlign: 'bottom', fontFamily: FONT, color: '#000' },
  s: { fontSize: 15, lineHeight: 14, verticalAlign: 'bottom', fontFamily: FONT, color: '#000' }
}

// bold label whose ♂/♀ glyphs come from DejaVu at a slightly bigger size
function symText(str, size) {
  let out = ''
  let run = ''
  for (const ch of str) {
    if (ch === '♂' || ch === '♀') {
      if (run) out += '{t|' + run + '}'
      run = ''
      out += '{g|' + ch + '}'
    } else run += ch
  }
  if (run) out += '{t|' + run + '}'
  return {
    text: out,
    rich: {
      t: { fontFamily: FONT, fontWeight: 'bold', fontSize: size, color: '#000' },
      g: { fontFamily: SYM, fontWeight: 'bold', fontSize: size + 3, color: '#000' }
    }
  }
}

function minors(ticks, lo, hi) {
  const step = ticks[1] - ticks[0]
  const out = []
  for (let v = ticks[0] - step / 2; v <= hi; v += step) if (v >= lo) out.push(v)
  return out
}

function gridLines(i, xr, yr, xt, yt) {
  const ml = []
  minors(xt, xr[0], xr[1]).forEach(v => ml.push({ xAxis: v, lineStyle: { color: '#F2F2F2', width: 1, type: 'solid' } }))
  minors(yt, yr[0], yr[1]).forEach(v => ml.push({ yAxis: v, lineStyle: { color: '#F2F2F2', width: 1, type: 'solid' } }))
  xt.forEach(v => ml.push({ xAxis: v, lineStyle: { color: '#EBEBEB', width: 1.6, type: 'solid' } }))
  yt.forEach(v => ml.push({ yAxis: v, lineStyle: { color: '#EBEBEB', width: 1.6, type: 'solid' } }))
  return {
    type: 'scatter', xAxisIndex: i, yAxisIndex: i, data: [], z: 0, silent: true,
    markLine: { silent: true, symbol: ['none', 'none'], label: { show: false }, animation: false, data: ml }
  }
}

function axes(i, xr, yr, xt, yt, fx, fy, yName) {
  const x = {
    gridIndex: i, type: 'value', min: xr[0], max: xr[1],
    axisLine: { show: false, onZero: false },
    axisTick: { show: true, customValues: xt, length: 4, lineStyle: { color: '#333' } },
    axisLabel: { customValues: xt, formatter: fx, color: '#1a1a1a', fontSize: 21, margin: 7, fontFamily: FONT },
    splitLine: { show: false },
    name: '{n|Log}{s|2}{n|(fold change)}', nameLocation: 'middle', nameGap: 24,
    nameTextStyle: { rich: sub }
  }
  const y = {
    gridIndex: i, type: 'value', min: yr[0], max: yr[1],
    axisLine: { show: false, onZero: false },
    axisTick: { show: true, customValues: yt, length: 4, lineStyle: { color: '#333' } },
    axisLabel: { customValues: yt, formatter: fy, color: '#1a1a1a', fontSize: 21, margin: 7, fontFamily: FONT },
    splitLine: { show: false }
  }
  if (yName) {
    y.name = '{n|-Log}{s|10}{n|(P)}'
    y.nameLocation = 'middle'
    y.nameGap = 45
    y.nameTextStyle = { rich: sub }
  }
  return [x, y]
}

function pts(i, data, colour, z) {
  return {
    type: 'scatter', xAxisIndex: i, yAxisIndex: i, data: data, symbol: 'circle', symbolSize: 10, z: z || 2,
    itemStyle: { color: colour, opacity: 0.55 }, silent: true
  }
}

function genes(i, list, offsets, styles) {
  return {
    type: 'scatter', xAxisIndex: i, yAxisIndex: i, symbolSize: 10, z: 4, silent: true,
    itemStyle: { color: TEAL_A },
    data: list.map((g, k) => ({
      value: [g[1], g[2]],
      label: {
        show: true, formatter: g[0], position: 'inside', offset: offsets[k],
        fontFamily: FONT, fontSize: 24, fontStyle: 'italic', fontWeight: styles[k], color: '#000',
        textBorderWidth: 0, textBorderColor: 'transparent', opacity: 1
      }
    }))
  }
}

const aX = [-8.64, 8.54], aY = [-0.67, 14.5]
const bX = [-14.9, 13.37], bY = [-0.61, 13.28]
const cX = [-5.47, 10.83], cY = [-0.43, 9.59]

const axA = axes(0, aX, aY, aXTicks, aYTicks, v => String(v), v => String(v), true)
const axB = axes(1, bX, bY, bXTicks, bYTicks, v => String(v), v => v.toFixed(1), false)
const axC = axes(2, cX, cY, cXTicks, cYTicks, v => v.toFixed(1), v => String(v), true)

function nBox(x, y, w, colour, dashed, k, count) {
  return [
    { type: 'rect', shape: { x: x, y: y, width: w, height: 27 }, z: 10,
      style: { fill: 'none', stroke: colour, lineWidth: 1.5, lineDash: dashed ? [9, 6] : null } },
    { type: 'text', x: x + w / 2, y: y + 14, z: 11,
      style: { text: '{n|n}{s|' + k + '}{n| = ' + count + '}', rich: sub, align: 'center', verticalAlign: 'middle' } }
  ]
}

function strip(x, y, w, cx, label) {
  const st = symText(label, 26)
  return [
    { type: 'rect', shape: { x: x, y: y, width: w, height: 65 }, z: 10,
      style: { fill: '#CCCCCC', stroke: '#333', lineWidth: 1.2 } },
    { type: 'text', x: cx, y: y + 33, z: 11,
      style: { text: st.text, rich: st.rich, align: 'center', verticalAlign: 'middle' } }
  ]
}

function letter(t, x, y) {
  return { type: 'text', x: x, y: y, z: 11, style: { text: t, font: 'bold 25px ' + FONT, fill: '#000' } }
}

const LEG = 'DejaVu Sans, sans-serif'
const legRich = {
  i: { fontFamily: LEG, fontSize: 20, fontStyle: 'italic', color: '#000' },
  r: { fontFamily: LEG, fontSize: 20, color: '#000' }
}
function legText(x, y, t) {
  return { type: 'text', x: x, y: y, z: 11, style: { text: t, rich: legRich, verticalAlign: 'middle' } }
}

function vb(t, x, y, align) {
  const st = symText(t, 24)
  return { type: 'text', x: x, y: y, z: 11,
    style: { text: st.text, rich: st.rich, align: align || 'left', verticalAlign: 'middle' } }
}
const vc = (t, x, y) => ({ type: 'text', x: x, y: y, z: 11,
  style: { text: '(' + t + ')', font: '21px ' + FONT, fill: '#000', align: 'center', verticalAlign: 'middle' } })

const nl = vennNames.map(s => s.split('\n'))

const graphics = [].concat(
  strip(86, 10, 432, 312, 'Dpro♀≠  Dpro ♂'),
  strip(613, 10, 423, 836, 'Dcar ♂≠  Dpro ♂'),
  strip(86, 584, 432, 302, 'Dcar ♂-♀≠  Dpro ♂-♀'),
  [letter('A', 14, 11), letter('B', 562, 11), letter('C', 15, 586), letter('D', 563, 586)],
  nBox(107, 450, 97, TEAL, true, 1, aCounts[0]),
  nBox(404, 450, 97, TEAL, false, 2, aCounts[1]),
  nBox(627, 450, 121, RED, false, 1, bCounts[0]),
  nBox(911, 450, 121, TEAL, false, 2, bCounts[1]),
  nBox(107, 1029, 97, RED, false, 1, cCounts[0]),
  nBox(397, 1029, 97, TEAL, false, 2, cCounts[1]),
  [
    vb(nl[2][0], 814, 737, 'center'), vc(vennCounts[2], 817, 785),
    vb(nl[1][0], 611, 908), vb(nl[1][1], 644, 937, 'center'), vb(nl[1][2], 613, 966), vc(vennCounts[1], 717, 1004),
    vb(nl[0][0], 907, 908), vb(nl[0][1], 957, 937, 'center'), vb(nl[0][2], 909, 966), vc(vennCounts[0], 916, 1004),
    { type: 'rect', shape: { x: 796, y: 866, width: 42, height: 42 }, z: 10,
      style: { fill: '#fff', stroke: '#000', lineWidth: 2.5 } },
    { type: 'text', x: 817, y: 888, z: 11,
      style: { text: String(vennShared), font: 'bold 26px ' + FONT, fill: '#000', align: 'center', verticalAlign: 'middle' } }
  ],
  [
    legText(175, 1174, '{i|D. prolongata}{r| male-biased}'),
    legText(175, 1215, '{i|D. prolongata}{r| female-biased}'),
    legText(633, 1174, '{i|D. carrolli}{r| male-biased}'),
    legText(633, 1215, '{r|Not Significant}'),
    { type: 'circle', shape: { cx: 507, cy: 1174, r: 11 }, z: 11, style: { fill: TEAL } },
    { type: 'circle', shape: { cx: 507, cy: 1215, r: 10 }, z: 11, style: { fill: '#fff', stroke: TEAL, lineWidth: 2.5 } },
    { type: 'circle', shape: { cx: 928, cy: 1174, r: 11 }, z: 11, style: { fill: RED } },
    { type: 'circle', shape: { cx: 928, cy: 1215, r: 11 }, z: 11, style: { fill: '#D9D9D9' } }
  ]
)

const option = {
  animation: false,
  backgroundColor: '#fff',
  textStyle: { fontFamily: FONT },
  grid: [
    { left: 86, top: 75, width: 432, height: 423, show: true, borderColor: '#333', borderWidth: 1.2, backgroundColor: '#fff' },
    { left: 613, top: 75, width: 423, height: 423, show: true, borderColor: '#333', borderWidth: 1.2, backgroundColor: '#fff' },
    { left: 86, top: 649, width: 432, height: 422, show: true, borderColor: '#333', borderWidth: 1.2, backgroundColor: '#fff' },
    { left: 560, top: 600, width: 477, height: 520 }
  ],
  xAxis: [axA[0], axB[0], axC[0], { gridIndex: 3, type: 'value', min: 0, max: 4.77, show: false }],
  yAxis: [axA[1], axB[1], axC[1], { gridIndex: 3, type: 'value', min: 0, max: 5.2, inverse: true, show: false }],
  series: [
    gridLines(0, aX, aY, aXTicks, aYTicks),
    gridLines(1, bX, bY, bXTicks, bYTicks),
    gridLines(2, cX, cY, cXTicks, cYTicks),
    pts(0, aGrey, GREY),
    pts(0, aMale, TEAL, 3),
    {
      type: 'scatter', xAxisIndex: 0, yAxisIndex: 0, data: aFemale, symbol: 'circle', symbolSize: 10, z: 3, silent: true,
      itemStyle: { color: 'rgba(255,255,255,0)', borderColor: TEAL, borderWidth: 1.2, opacity: 0.75 }
    },
    genes(0, aGenes, [[-46, 11], [-20, 22]], ['normal', 'bold']),
    pts(1, bGrey, GREY),
    pts(1, bRed, RED, 3),
    pts(1, bTeal, TEAL, 3),
    genes(1, bGenes, [[42, -11]], ['bold']),
    pts(2, cGrey, GREY),
    pts(2, cRed, RED, 3),
    pts(2, cTeal, TEAL, 3),
    genes(2, cGenes, [[-47, 12]], ['bold']),
    {
      type: 'scatter', xAxisIndex: 3, yAxisIndex: 3, clip: false, silent: true, z: 5,
      symbol: 'circle', symbolSize: 256,
      data: vennCentres.map((c, k) => ({
        value: c, itemStyle: { color: vennFill[k], borderColor: 'rgba(90,90,90,0.8)', borderWidth: 2.5 }
      }))
    }
  ],
  graphic: graphics
}

chart.setOption(option)
</script>
</body>
</html>
